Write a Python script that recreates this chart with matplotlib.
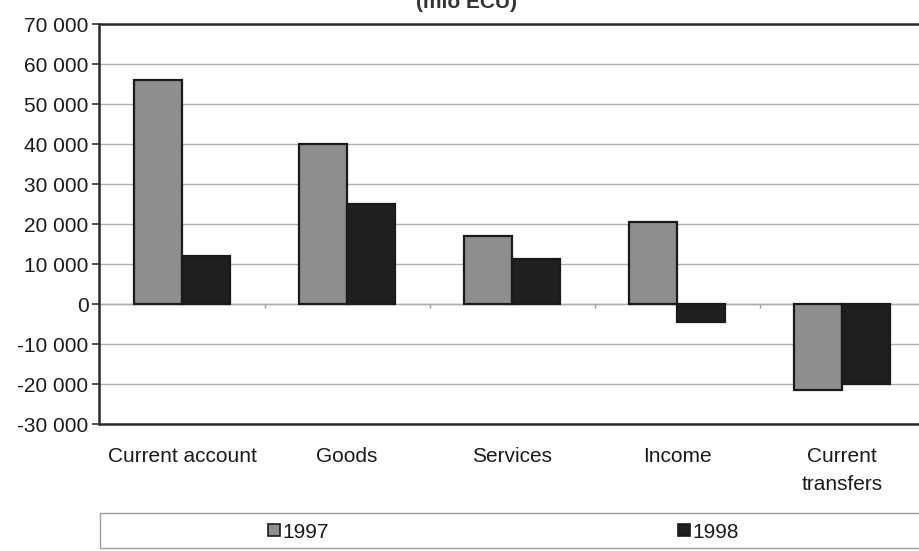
import matplotlib
matplotlib.use("Agg")
import matplotlib.pyplot as plt
from matplotlib.ticker import FuncFormatter, MultipleLocator
from matplotlib.patches import Rectangle
import numpy as np

plt.rcParams['font.family'] = ['Liberation Sans', 'DejaVu Sans']

categories = ["Current account", "Goods", "Services", "Income", "Current\ntransfers"]
series_names = ["1997", "1998"]
values_1997 = [56000, 40000, 17000, 20500, -21500]
values_1998 = [12000, 25000, 11300, -4500, -20000]
title = "(mio ECU)"

COL_97 = "#8e8e8e"
COL_98 = "#1f1f1f"
FS = 15

W, H = 920, 551
fig = plt.figure(figsize=(W / 100, H / 100), dpi=100)
fig.patch.set_facecolor("white")

left, right = 99.5, 924.5
top, bottom = 24, 424
ax = fig.add_axes([left / W, 1 - bottom / H, (right - left) / W, (bottom - top) / H])

x = np.arange(len(categories))
bw = 0.29
ax.bar(x - bw / 2, values_1997, width=bw, color=COL_97, edgecolor="#1a1a1a", linewidth=1.6, zorder=3)
ax.bar(x + bw / 2, values_1998, width=bw, color=COL_98, edgecolor="#1a1a1a", linewidth=1.6, zorder=3)

ax.set_xlim(-0.5, len(categories) - 0.5)
ax.set_ylim(-30000, 70000)
ax.yaxis.set_major_locator(MultipleLocator(10000))
ax.yaxis.set_major_formatter(FuncFormatter(lambda v, p: f"{int(v):,}".replace(",", " ")))
ax.grid(axis="y", color="#b0b0b0", linewidth=1.0, zorder=0)
ax.axhline(0, color="#9a9a9a", linewidth=1.0, zorder=1)
# small category separator ticks on the zero line
ax.vlines(x[:-1] + 0.5, -900, 0, color="#9a9a9a", linewidth=1.0, zorder=1)

ax.set_xticks(x)
ax.set_xticklabels(categories, fontsize=FS, color="#1a1a1a", linespacing=1.6)
ax.tick_params(axis="x", length=0, pad=16.5)
ax.tick_params(axis="y", labelsize=FS, labelcolor="#1a1a1a", length=5, width=1.2,
               color="#333333", direction="out", pad=3)

for s in ["left", "top", "bottom"]:
    ax.spines[s].set_color("#2a2a2a")
    ax.spines[s].set_linewidth(1.8)
ax.spines["right"].set_visible(False)

# title partly cut off at top, as in the reference
fig.text(467 / W, 1 - 8 / H, title, ha="center", va="baseline", fontsize=FS,
         fontweight="bold", color="#333333")

# legend box
lx0, lx1, ly0, ly1 = 100, 921, 513, 548
fig.patches.append(Rectangle((lx0 / W, 1 - ly1 / H), (lx1 - lx0) / W, (ly1 - ly0) / H,
                             transform=fig.transFigure, facecolor="white",
                             edgecolor="#9a9a9a", linewidth=1.0))
ymid = 530
for name, col, hx in zip(series_names, [COL_97, COL_98], [268, 678]):
    fig.patches.append(Rectangle((hx / W, 1 - (ymid + 6) / H), 12 / W, 12 / H,
                                 transform=fig.transFigure, facecolor=col,
                                 edgecolor="#1a1a1a", linewidth=1.2))
    fig.text((hx + 14) / W, 1 - ymid / H, name, ha="left", va="center_baseline",
             fontsize=FS, color="#1a1a1a")

fig.savefig("out.png", dpi=100, facecolor="white")
